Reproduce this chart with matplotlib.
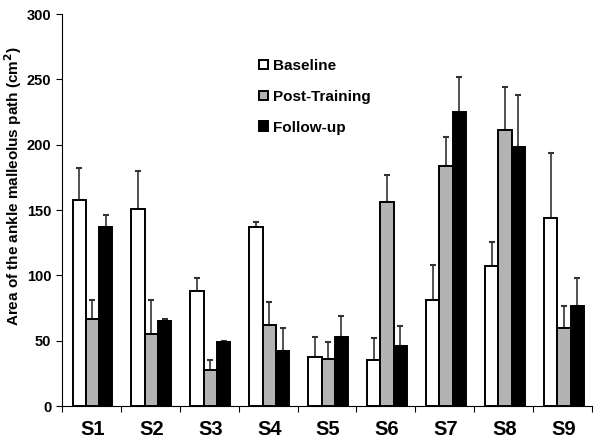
import numpy as np
import matplotlib
matplotlib.use('Agg')
import matplotlib.pyplot as plt

subjects = ['S1', 'S2', 'S3', 'S4', 'S5', 'S6', 'S7', 'S8', 'S9']
baseline = [158, 151, 88, 137, 38, 35, 81, 107, 144]
baseline_err = [24, 29, 10, 4, 15, 17, 27, 19, 50]
post_training = [67, 55, 28, 62, 36, 156, 184, 211, 60]
post_training_err = [14, 26, 7, 18, 13, 21, 22, 33, 17]
follow_up = [137, 65, 49, 42, 53, 46, 225, 198, 77]
follow_up_err = [9, 2, 1, 18, 16, 15, 27, 40, 21]

plt.rcParams['font.family'] = ['Liberation Sans', 'DejaVu Sans']
plt.rcParams['font.weight'] = 'bold'

fig = plt.figure(figsize=(6, 4.41), dpi=100)
ax = fig.add_axes([0.103, 0.079, 0.884, 0.889])

x = np.arange(len(subjects)) + 0.52
w = 0.225
series = [
    ('Baseline', baseline, baseline_err, 'white'),
    ('Post-Training', post_training, post_training_err, '#b3b3b3'),
    ('Follow-up', follow_up, follow_up_err, 'black'),
]
for i, (name, vals, errs, col) in enumerate(series):
    pos = x + (i - 1) * w
    ax.bar(pos, vals, width=w, color=col, edgecolor='black', linewidth=1.4,
           label=name, zorder=3)
    ax.errorbar(pos, vals, yerr=[np.zeros(len(errs)), errs], fmt='none',
                ecolor='#333333', elinewidth=1.2, capsize=2, capthick=1.5, zorder=2)

ax.set_xlim(0, 9)
ax.set_ylim(0, 300)
ax.set_yticks(range(0, 301, 50))
ax.set_xticks(range(0, 10))
ax.set_xticklabels([])
ax.set_xticks(x, minor=True)
ax.set_xticklabels(subjects, minor=True, fontsize=14.5, fontweight='bold')
ax.tick_params(axis='x', which='minor', length=0, pad=10)
ax.tick_params(axis='x', which='major', length=4, direction='out')
ax.tick_params(axis='y', labelsize=10.5, length=4, direction='out')
for lab in ax.get_yticklabels():
    lab.set_fontweight('bold')
ax.spines['top'].set_visible(False)
ax.spines['right'].set_visible(False)
ax.set_ylabel('Area of the ankle malleolus path (cm$^\\mathbf{2}$)', fontsize=11,
              fontweight='bold')
ax.yaxis.set_label_coords(-0.072, 0.56)

ax.legend(loc='upper left', bbox_to_anchor=(0.358, 0.905), frameon=False,
          prop={'size': 11, 'weight': 'bold'}, handlelength=0.6,
          handleheight=0.6, handletextpad=0.3, labelspacing=1.1, borderpad=0)

fig.savefig('out.png', dpi=100)
